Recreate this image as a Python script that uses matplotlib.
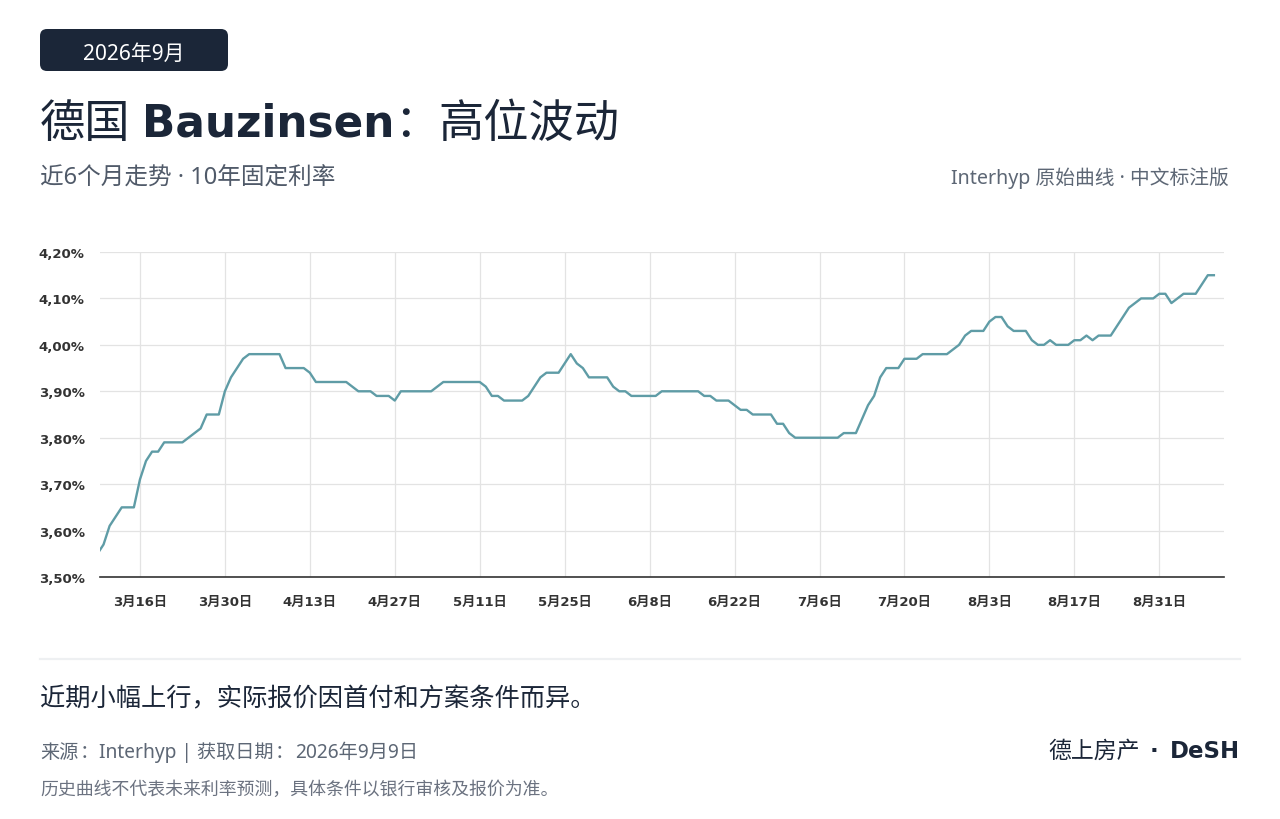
import matplotlib
matplotlib.use('Agg')
import matplotlib.pyplot as plt
from matplotlib.patches import FancyBboxPatch
from matplotlib.lines import Line2D
from matplotlib.transforms import IdentityTransform
import pandas as pd

# 10-year fixed rate (Interhyp), daily values
start_date = '2026-03-09'
rates_mar = [3.55, 3.57, 3.61, 3.63, 3.65, 3.65, 3.65, 3.71, 3.75, 3.77, 3.77, 3.79,
             3.79, 3.79, 3.79, 3.80, 3.81, 3.82, 3.85, 3.85, 3.85, 3.90, 3.93]
rates_apr = [3.95, 3.97, 3.98, 3.98, 3.98, 3.98, 3.98, 3.98, 3.95, 3.95, 3.95, 3.95,
             3.94, 3.92, 3.92, 3.92, 3.92, 3.92, 3.92, 3.91, 3.90, 3.90, 3.90, 3.89,
             3.89, 3.89, 3.88, 3.90, 3.90, 3.90]
rates_may = [3.90, 3.90, 3.90, 3.91, 3.92, 3.92, 3.92, 3.92, 3.92, 3.92, 3.92, 3.91,
             3.89, 3.89, 3.88, 3.88, 3.88, 3.88, 3.89, 3.91, 3.93, 3.94, 3.94, 3.94,
             3.96, 3.98, 3.96, 3.95, 3.93, 3.93, 3.93]
rates_jun = [3.93, 3.91, 3.90, 3.90, 3.89, 3.89, 3.89, 3.89, 3.89, 3.90, 3.90, 3.90,
             3.90, 3.90, 3.90, 3.90, 3.89, 3.89, 3.88, 3.88, 3.88, 3.87, 3.86, 3.86,
             3.85, 3.85, 3.85, 3.85, 3.83, 3.83]
rates_jul = [3.81, 3.80, 3.80, 3.80, 3.80, 3.80, 3.80, 3.80, 3.80, 3.81, 3.81, 3.81,
             3.84, 3.87, 3.89, 3.93, 3.95, 3.95, 3.95, 3.97, 3.97, 3.97, 3.98, 3.98,
             3.98, 3.98, 3.98, 3.99, 4.00, 4.02, 4.03]
rates_aug = [4.03, 4.03, 4.05, 4.06, 4.06, 4.04, 4.03, 4.03, 4.03, 4.01, 4.00, 4.00,
             4.01, 4.00, 4.00, 4.00, 4.01, 4.01, 4.02, 4.01, 4.02, 4.02, 4.02, 4.04,
             4.06, 4.08, 4.09, 4.10, 4.10, 4.10, 4.11]
rates_sep = [4.11, 4.09, 4.10, 4.11, 4.11, 4.11, 4.13, 4.15, 4.15]

y_ticks = [3.50, 3.60, 3.70, 3.80, 3.90, 4.00, 4.10, 4.20]
x_start, x_end = '2026-03-09 10:00', '2026-09-10 16:00'
tick_start, tick_end = '2026-03-16', '2026-08-31'

badge = '2026年9月'
title_parts = ['德国', 'Bauzinsen', '：高位波动']
subtitle = '近6个月走势 · 10年固定利率'
source_note = 'Interhyp 原始曲线 · 中文标注版'
takeaway = '近期小幅上行，实际报价因首付和方案条件而异。'
source_line = '来源：Interhyp | 获取日期：2026年9月9日'
brand = ['德上房产', '·', 'DeSH']
disclaimer = '历史曲线不代表未来利率预测，具体条件以银行审核及报价为准。'

rates = rates_mar + rates_apr + rates_may + rates_jun + rates_jul + rates_aug + rates_sep
dates = pd.date_range(start_date, periods=len(rates), freq='D')
ticks = pd.date_range(tick_start, tick_end, freq='14D')

navy = '#1b2638'
grey = '#505a69'
grey2 = '#5d6775'
line_color = '#5f9ca6'
MAIN = ['Noto Sans', 'Noto Sans CJK SC', 'DejaVu Sans']
BOLD = ['DejaVu Sans', 'Noto Sans CJK SC']
TICKF = ['DejaVu Sans', 'Noto Sans CJK SC']

W, H = 1280, 820
fig = plt.figure(figsize=(W / 100, H / 100), dpi=100)
fig.patch.set_facecolor('white')
renderer = fig.canvas.get_renderer()
px = IdentityTransform()

# chart area
ax = fig.add_axes([100 / W, 1 - 578 / H, 1124 / W, 325 / H])
ax.plot(dates, rates, color=line_color, lw=1.7, solid_joinstyle='round', zorder=3)
ax.set_xlim(pd.Timestamp(x_start), pd.Timestamp(x_end))
ax.set_ylim(y_ticks[0], y_ticks[-1])
ax.set_yticks(y_ticks)
ax.set_yticklabels([f'{v:.2f}%'.replace('.', ',') for v in y_ticks])
ax.set_xticks(ticks)
ax.set_xticklabels([f'{d.month}月{d.day}日' for d in ticks])
ax.grid(True, color='#e3e3e3', lw=0.9)
ax.set_axisbelow(True)
for s in ['top', 'right', 'left']:
    ax.spines[s].set_visible(False)
ax.spines['bottom'].set_color('#333333')
ax.spines['bottom'].set_linewidth(1.2)
ax.tick_params(axis='both', length=0, colors='#333333')
ax.tick_params(axis='y', pad=11)
ax.tick_params(axis='x', pad=13)
for lab in ax.get_xticklabels() + ax.get_yticklabels():
    lab.set_family(TICKF)
    lab.set_fontweight('bold')
    lab.set_fontsize(9.5)


def put(x, y, s, **kw):
    kw.setdefault('family', MAIN)
    kw.setdefault('va', 'baseline')
    return fig.text(x, H - y, s, transform=px, **kw)


def split_colon(s, color, gap=2):
    # full-width colons get their own centred em box
    parts = []
    chunks = s.split('：')
    for i, c in enumerate(chunks):
        if c:
            parts.append((c, 'normal', color, gap, False, None))
        if i < len(chunks) - 1:
            parts.append(('：', 'normal', color, gap, True, None))
    return parts


def row(x, y, parts, size, align='left'):
    # parts: (text, weight, color, gap after in px, em box, own size)
    items = []
    for s, weight, color, gap, box, fs in parts:
        fs = fs or size
        fam = BOLD if weight == 'bold' else MAIN
        t = put(0, y, s, fontsize=fs, fontweight=weight, color=color, family=fam,
                ha='center' if box else 'left')
        w = fs * 100 / 72 if box else t.get_window_extent(renderer).width
        items.append((t, w, gap, box))
    total = sum(w + g for _, w, g, _ in items) - items[-1][2]
    cx = x if align == 'left' else x - total
    for t, w, g, box in items:
        t.set_x(cx + w / 2 if box else cx)
        cx += w + g


# header
fig.add_artist(FancyBboxPatch((40, H - 72), 188, 42, boxstyle='round,pad=0,rounding_size=7',
                              facecolor=navy, edgecolor='none', transform=px))
put(134, 60, badge, fontsize=15, color='white', ha='center')
row(40, 137, [(title_parts[0], 'normal', navy, 12, False, 32.6),
              (title_parts[1], 'bold', navy, -1, False, 31.5)]
    + split_colon(title_parts[2], navy, gap=-1), 32.6)
put(40, 185, subtitle, fontsize=17, color=grey)
put(1229, 184, source_note, fontsize=14.2, color=grey2, ha='right')

# footer
fig.add_artist(Line2D([40, 1240], [H - 660, H - 660], color='#eef0f2', lw=1.6, transform=px))
put(40, 706, takeaway, fontsize=18.2, color=navy)
row(40, 758, split_colon(source_line, grey2, gap=1), 13.8)
row(1240, 758, [(brand[0], 'normal', navy, 10, False, None),
                (brand[1], 'bold', navy, 11, False, None),
                (brand[2], 'bold', navy, 0, False, None)], 16.5, align='right')
put(40, 795, disclaimer, fontsize=12.9, color='#6b7280')

fig.savefig('out.png', dpi=100, facecolor='white')
